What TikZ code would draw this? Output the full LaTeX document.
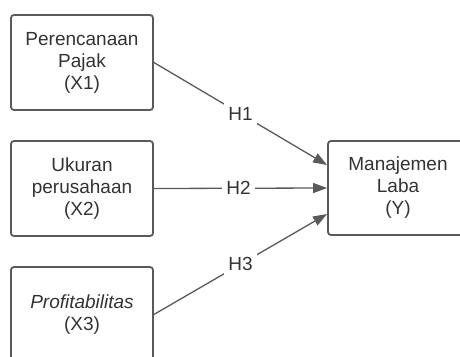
\documentclass[tikz,border=0pt]{standalone}
\usepackage{fontspec}
\setmainfont{Liberation Sans}
\usetikzlibrary{arrows.meta}
\definecolor{linegray}{HTML}{5A5A5A}
\definecolor{textgray}{HTML}{333333}
\begin{document}
\begin{tikzpicture}[x=1pt,y=-1pt,
  varbox/.style={draw=linegray, line width=1.8pt, rounded corners=3pt,
    minimum width=142pt, minimum height=95pt, align=center, text=textgray,
    font=\fontsize{19}{22}\selectfont, inner sep=0pt},
  link/.style={draw=linegray, line width=1.3pt, -{Triangle[length=14pt,width=10pt]}},
  hlabel/.style={fill=white, text=textgray, font=\fontsize{19}{22}\selectfont, inner sep=4pt}]
\clip (0,0) rectangle (460,356);
\fill[white] (0,0) rectangle (460,356);
\node[varbox] (x1) at (82,62.5) {Perencanaan\\Pajak\\(X1)};
\node[varbox] (x2) at (82,188.5) {Ukuran\\perusahaan\\(X2)};
\node[varbox] (x3) at (82,314.5) {\textit{Profitabilitas}\\(X3)};
\node[varbox, minimum width=140pt, minimum height=94pt] (y) at (398,188) {Manajemen\\Laba\\(Y)};
\coordinate (y1) at ([yshift=23pt]y.west);
\coordinate (y3) at ([yshift=-26pt]y.west);
\draw[link] (x1.east) -- node[hlabel] {H1} (y1);
\draw[link] (x2.east) -- node[hlabel, xshift=-2pt] {H2} (y.west);
\draw[link] (x3.east) -- node[hlabel] {H3} (y3);
\end{tikzpicture}
\end{document}
